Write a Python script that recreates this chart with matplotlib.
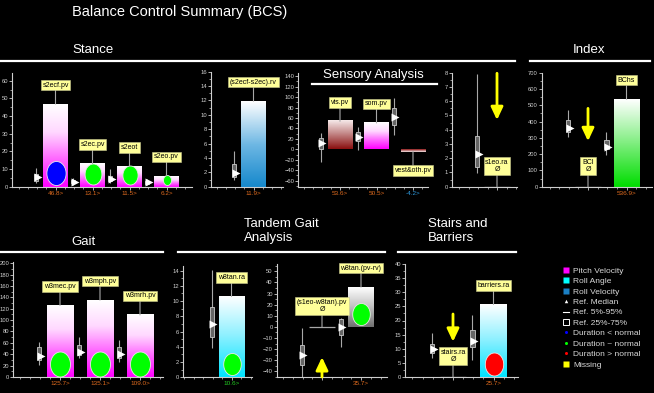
import numpy as np
import matplotlib.pyplot as plt
from matplotlib.colors import LinearSegmentedColormap
from matplotlib.patches import Rectangle
from matplotlib.path import Path
from matplotlib.lines import Line2D
from matplotlib.ticker import MultipleLocator

plt.rcParams['font.family'] = ['Liberation Sans', 'DejaVu Sans']

# ---------------- data ----------------
# Stance
stance_names = ['s2ecf.pv', 's2ec.pv', 's2eot', 's2eo.pv']
stance_vals = [46.8, 13.1, 11.5, 6.2]
stance_ref = [(2.3, 3.5, 5.3, 7.0, 10.4), (1.0, 2.0, 2.8, 3.8, 5.0),
              (2.3, 3.2, 4.2, 6.0, 9.8), (1.0, 1.6, 2.5, 3.4, 4.2)]
stance_dot = [7.8, 7.0, 6.4, 3.8]
stance_dot_col = ['blue', 'green', 'green', 'green']
stance_dot_px = [24, 21, 19, 10]
stance_ticks = ['46.8>', '13.1>', '11.5>', '6.2>']
stance_tick_col = ['orange', 'orange', 'orange', 'orange']

# Stance difference
diff_names = ['(s2ecf-s2ec).rv']
diff_vals = [11.9]
diff_ref = [(0.9, 1.3, 1.95, 3.15, 4.9)]
diff_ticks = ['11.9>']
diff_tick_col = ['orange']

# Sensory analysis
sens_names = ['vis.pv', 'som.pv', 'vest&oth.pv']
sens_vals = [53.6, 50.5, -4.2]
sens_ref = [(-24, 0, 12.6, 22, 31.7), (-1.4, 15.8, 24, 33.6, 43),
            (27, 46.4, 62, 79.5, 99)]
sens_ticks = ['53.6>', '50.5>', '-4.2>']
sens_tick_col = ['orange', 'orange', 'blue']

# s1eo.ra (missing)
s1eo_names = ['s1eo.ra\nØ']
s1eo_vals = [None]
s1eo_ref = [(0.94, 1.36, 2.3, 3.56, 7.9)]
s1eo_arrow = [(7.96, 4.68)]

# Index
index_names = ['BCI\nØ', 'BChs']
index_vals = [None, 536.9]
index_ref = [(303, 338, 358, 410, 471), (195, 230, 246, 287, 338)]
index_arrow = [(481, 280), None]
index_ticks = ['', '536.9>']
index_tick_col = ['orange', 'orange']

# Gait
gait_names = ['w3mec.pv', 'w3mph.pv', 'w3mrh.pv']
gait_vals = [125.7, 135.1, 109.0]
gait_ref = [(21, 30, 37, 53, 62), (33, 39, 44, 56, 71), (27, 33, 40, 53, 65)]
gait_dot = [22, 22, 22]
gait_dot_col = ['green', 'green', 'green']
gait_dot_px = [25, 25, 25]
gait_ticks = ['125.7>', '135.1>', '109.0>']
gait_tick_col = ['orange', 'orange', 'orange']

# Tandem gait
tan_names = ['w8tan.ra']
tan_vals = [10.6]
tan_ref = [(3.8, 5.3, 7.0, 9.2, 14.1)]
tan_dot = [1.75]
tan_dot_col = ['green']
tan_dot_px = [22]
tan_ticks = ['10.6>']
tan_tick_col = ['green']

tan2_names = ['(s1eo-w8tan).pv\nØ', 'w8tan.(pv-rv)']
tan2_vals = [None, 35.7]
tan2_ref = [(-45, -34, -25, -16, -1.3), (-17.7, -7.3, 0.1, 6.7, 7.6)]
tan2_arrow = [(-45, -27.2), None]
tan2_dot = [None, 11.2]
tan2_dot_col = [None, 'green']
tan2_dot_px = [None, 22]
tan2_ticks = ['', '35.7>']
tan2_tick_col = ['orange', 'orange']

# Stairs and barriers
stairs_names = ['stairs.ra\nØ', 'barriers.ra']
stairs_vals = [None, 25.7]
stairs_ref = [(6.6, 8.4, 9.9, 11.6, 15.5), (6, 10.7, 12.9, 16.6, 22)]
stairs_arrow = [(22.3, 12.5), None]
stairs_dot = [None, 4.5]
stairs_dot_col = [None, 'red']
stairs_dot_px = [None, 23]
stairs_ticks = ['', '25.7>']
stairs_tick_col = ['orange', 'orange']

legend_labels = ['Pitch Velocity', 'Roll Angle', 'Roll Velocity', 'Ref. Median',
                 'Ref. 5%-95%', 'Ref. 25%-75%', 'Duration < normal',
                 'Duration ~ normal', 'Duration > normal', 'Missing']

# ---------------- styling ----------------
W, H = 654, 393
AXIS_C = '#cfcfcf'
REF_C = '#a8a8a8'
LABEL_FC = '#ffff99'
MISSING_C = '#ffff00'
COLS = {'orange': '#dd6a1e', 'blue': '#2e9be0', 'green': '#22cc22',
        'red': '#ff1010'}
DOT_COLS = {'blue': '#0000ff', 'green': '#00ff00', 'red': '#ff0000'}


def ramp(*cols):
    return LinearSegmentedColormap.from_list('r', list(cols))


PITCH = ramp('#ff00ff', '#ff66ff', '#ffd8ff', '#ffffff')
ROLLV = ramp('#1588cc', '#6fb8e4', '#ffffff')
ROLLA = ramp('#00e4ff', '#8af0ff', '#ffffff')
GREEN = ramp('#00dd00', '#80ee80', '#ffffff')
VIS = ramp('#8a0f0f', '#c08080', '#f6eaea')
GREY = ramp('#707070', '#c0c0c0', '#ffffff')

BW = 0.66
fig = plt.figure(figsize=(W / 100, H / 100), dpi=100, facecolor='black')


def px_axes(left, right, top, bottom, first, slot, ylim, major, minor):
    ax = fig.add_axes([left / W, 1 - bottom / H, (right - left) / W, (bottom - top) / H])
    x0 = 1 - (first - left) / slot
    ax.set_xlim(x0, x0 + (right - left) / slot)
    ax.set_ylim(*ylim)
    ax.set_facecolor('black')
    for s in ('top', 'right'):
        ax.spines[s].set_visible(False)
    for s in ('left', 'bottom'):
        ax.spines[s].set_color(AXIS_C)
        ax.spines[s].set_linewidth(0.8)
    ax.yaxis.set_major_locator(MultipleLocator(major))
    ax.yaxis.set_minor_locator(MultipleLocator(minor))
    ax.xaxis.set_minor_locator(MultipleLocator(0.25))
    ax.tick_params(colors=AXIS_C, labelsize=4.2, length=2, width=0.6, pad=0.8)
    ax.tick_params(which='minor', length=1.2, width=0.5, colors=AXIS_C)
    return ax


ELLIPSE = Path(np.column_stack([0.8 * np.cos(np.linspace(0, 2 * np.pi, 60)),
                                np.sin(np.linspace(0, 2 * np.pi, 60))]), closed=True)


def draw(ax, names, vals, refs, cmaps=None, dots=None, dot_cols=None, dot_px=None,
         arrows=None, ticks=None, tick_cols=None):
    xs = np.arange(1, len(names) + 1)
    for i, x in enumerate(xs):
        v = vals[i]
        if v is None:
            ax.hlines(0, x - BW / 2, x + BW / 2, color=REF_C, lw=0.9, zorder=2)
            top = 0
        else:
            grad = np.linspace(0, 1, 128).reshape(-1, 1)
            ax.imshow(grad, extent=(x - BW / 2, x + BW / 2, 0, v), origin='lower',
                      cmap=cmaps[i], aspect='auto', zorder=2)
            top = v
        # reference distribution
        p5, q25, med, q75, p95 = refs[i]
        rx = x - 0.52
        ax.vlines(rx, p5, p95, color=REF_C, lw=0.8, zorder=3)
        ax.add_patch(Rectangle((rx - 0.055, q25), 0.11, q75 - q25, fc='#666666',
                               ec='#c8c8c8', lw=0.6, zorder=3))
        ax.plot(rx + 0.04, med, marker='>', ms=5.5, color='white', mec='none', zorder=4)
        # duration dot
        if dots is not None and dots[i] is not None:
            ax.plot(x, dots[i], marker=ELLIPSE, ms=dot_px[i] * 0.72,
                    mfc=DOT_COLS[dot_cols[i]], mec='#e8e8e8', mew=0.6, zorder=4)
        # missing arrow
        if arrows is not None and arrows[i] is not None:
            a0, a1 = arrows[i]
            ax.annotate('', xy=(x, a1), xytext=(x, a0),
                        arrowprops=dict(arrowstyle='-|>,head_length=0.55,head_width=0.26',
                                        color=MISSING_C, lw=2.0, mutation_scale=14,
                                        shrinkA=0, shrinkB=0), zorder=4)
        # name label
        two = '\n' in names[i]
        off = 21 if two else 19
        if top < 0:
            off = -off
        ax.annotate(names[i], xy=(x, top), xytext=(0, off), textcoords='offset pixels',
                    ha='center', va='center', fontsize=5, color='black', linespacing=1.05,
                    bbox=dict(boxstyle='square,pad=0.25', fc=LABEL_FC, ec='#c8c890', lw=0.4),
                    arrowprops=dict(arrowstyle='-', color=REF_C, lw=0.8, shrinkA=0, shrinkB=0),
                    zorder=5)
    ax.set_xticks(xs)
    ax.set_xticklabels(ticks if ticks is not None else [''] * len(xs), fontsize=4.6)
    if tick_cols is not None:
        for t, c in zip(ax.get_xticklabels(), tick_cols):
            t.set_color(COLS[c])


# ---------------- top row ----------------
ax = px_axes(12, 192, 73, 186.7, 55.5, 37, (0, 64.4), 10, 5)
draw(ax, stance_names, stance_vals, stance_ref, [PITCH] * 4, stance_dot, stance_dot_col,
     stance_dot_px, ticks=stance_ticks, tick_cols=stance_tick_col)

ax = px_axes(210.7, 283, 71.7, 186.7, 253.5, 37, (0, 16), 2, 1)
draw(ax, diff_names, diff_vals, diff_ref, [ROLLV], ticks=diff_ticks, tick_cols=diff_tick_col)

ax = px_axes(298, 428, 73, 186.7, 340, 36.5, (-71.5, 146), 20, 10)
draw(ax, sens_names, sens_vals, sens_ref, [VIS, PITCH, VIS], ticks=sens_ticks,
     tick_cols=sens_tick_col)

ax = px_axes(451.7, 517, 72.7, 186.7, 497, 38, (0, 8), 1, 0.5)
draw(ax, s1eo_names, s1eo_vals, s1eo_ref, arrows=s1eo_arrow)

ax = px_axes(541.7, 652, 72.7, 186.7, 588, 38.5, (0, 700), 100, 50)
draw(ax, index_names, index_vals, index_ref, [None, GREEN], arrows=index_arrow,
     ticks=index_ticks, tick_cols=index_tick_col)

# ---------------- bottom row ----------------
ax = px_axes(13, 163, 262, 377, 60, 40, (0, 202), 20, 10)
draw(ax, gait_names, gait_vals, gait_ref, [PITCH] * 3, gait_dot, gait_dot_col, gait_dot_px,
     ticks=gait_ticks, tick_cols=gait_tick_col)

ax = px_axes(183, 252, 266, 377.3, 231.5, 38, (0, 14.6), 2, 1)
draw(ax, tan_names, tan_vals, tan_ref, [ROLLA], tan_dot, tan_dot_col, tan_dot_px,
     ticks=tan_ticks, tick_cols=tan_tick_col)

ax = px_axes(276.7, 387, 264, 377, 322, 39, (-45, 56.5), 10, 5)
draw(ax, tan2_names, tan2_vals, tan2_ref, [None, GREY], tan2_dot, tan2_dot_col, tan2_dot_px,
     arrows=tan2_arrow, ticks=tan2_ticks, tick_cols=tan2_tick_col)

ax = px_axes(405, 518, 264, 377, 453, 40.5, (0, 40), 5, 2.5)
draw(ax, stairs_names, stairs_vals, stairs_ref, [None, ROLLA], stairs_dot, stairs_dot_col,
     stairs_dot_px, arrows=stairs_arrow, ticks=stairs_ticks, tick_cols=stairs_tick_col)

# ---------------- titles and section rules ----------------
def ftext(x, y, s, **kw):
    fig.text(x / W, 1 - y / H, s, color='white', va='center', **kw)


def rule(x0, x1, y):
    fig.add_artist(Line2D([x0 / W, x1 / W], [1 - y / H] * 2, color='white', lw=1.6,
                          transform=fig.transFigure))


ftext(72, 12, 'Balance Control Summary (BCS)', fontsize=10.5)
ftext(72, 50, 'Stance', fontsize=9.5)
ftext(589, 50, 'Index', fontsize=9.5, ha='center')
ftext(373, 75, 'Sensory Analysis', fontsize=9.5, ha='center')
ftext(83, 242, 'Gait', fontsize=9.5, ha='center')
ftext(244, 231, 'Tandem Gait\nAnalysis', fontsize=9.5, linespacing=1.15)
ftext(428, 231, 'Stairs and\nBarriers', fontsize=9.5, linespacing=1.15)
rule(0, 515, 61)
rule(530, 650, 61)
rule(312, 437, 84)
rule(0, 163, 252)
rule(178, 385, 252)
rule(398, 516, 252)

# ---------------- legend ----------------
handles = [
    Line2D([], [], ls='none', marker='s', ms=4.5, mfc='#ff00ff', mec='none'),
    Line2D([], [], ls='none', marker='s', ms=4.5, mfc='#00ffff', mec='none'),
    Line2D([], [], ls='none', marker='s', ms=4.5, mfc='#1a7fc4', mec='none'),
    Line2D([], [], ls='none', marker='^', ms=2.5, mfc='white', mec='none'),
    Line2D([], [], color='white', lw=0.8),
    Line2D([], [], ls='none', marker='s', ms=4, mfc='none', mec='white', mew=0.7),
    Line2D([], [], ls='none', marker='o', ms=2.2, mfc='#0000ff', mec='none'),
    Line2D([], [], ls='none', marker='o', ms=2.2, mfc='#00ff00', mec='none'),
    Line2D([], [], ls='none', marker='o', ms=2.2, mfc='#ff0000', mec='none'),
    Line2D([], [], ls='none', marker='s', ms=4.5, mfc='#ffff00', mec='none'),
]
fig.legend(handles, legend_labels, loc='upper left', bbox_to_anchor=(563 / W, 1 - 267 / H),
           frameon=False, fontsize=6, labelcolor='#d8d8d8', handlelength=0.7,
           handletextpad=0.5, labelspacing=0.31, borderaxespad=0, borderpad=0)

fig.savefig('out.png', dpi=100, facecolor='black')
